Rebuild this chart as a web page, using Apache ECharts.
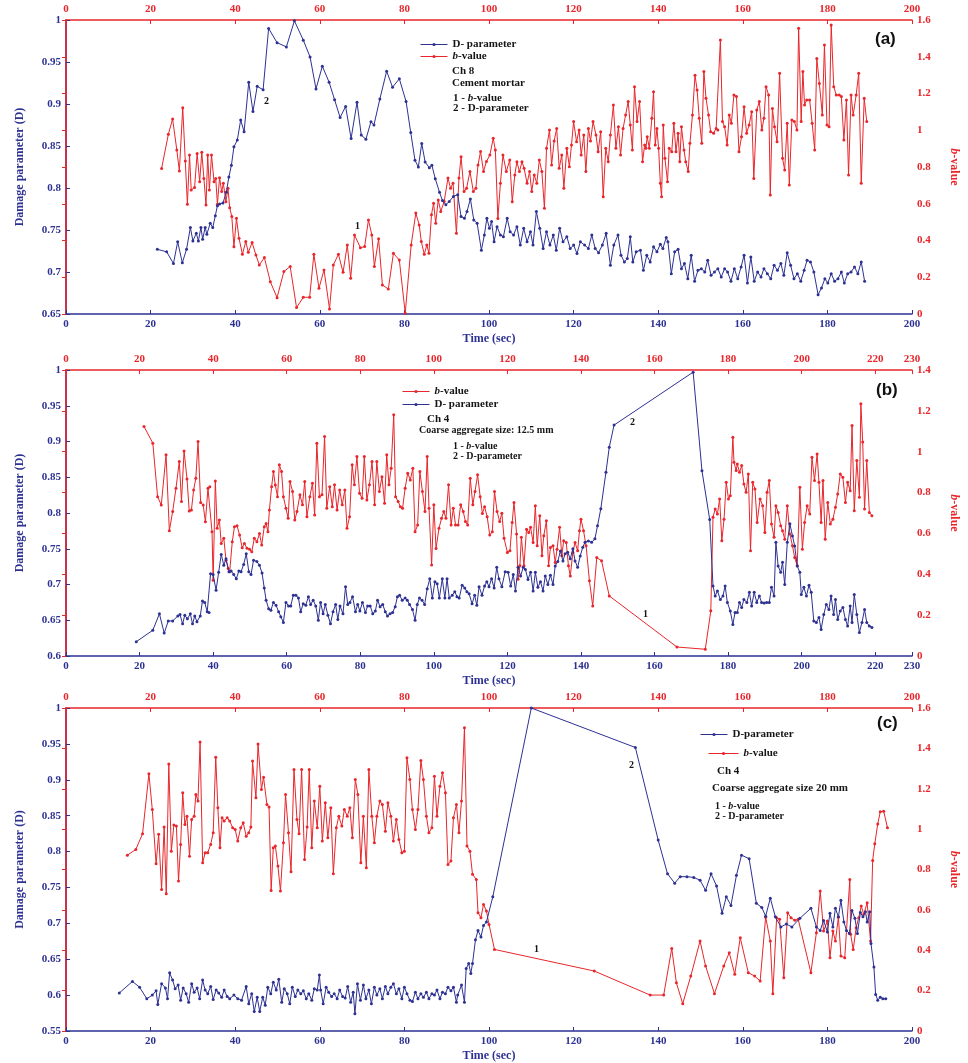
<!DOCTYPE html>
<html><head><meta charset="utf-8">
<script src="https://cdn.jsdelivr.net/npm/echarts@6/dist/echarts.min.js"></script>
<style>html,body{margin:0;padding:0;background:#fff}#c{width:968px;height:1063px}</style>
</head><body><div id="c"></div>
<script>
// ---------- Panel (a): Ch 8, cement mortar ----------
const aD = [[21.6,0.727],[23.8,0.724],[25.4,0.710],[26.4,0.736],[27.5,0.711],[28.5,0.727],[29.4,0.753],[30.0,0.737],[30.8,0.746],[31.3,0.737],[31.9,0.753],[32.3,0.739],[32.9,0.753],[33.3,0.745],[34.1,0.758],[34.7,0.753],[35.3,0.767],[35.8,0.779],[36.3,0.781],[37.1,0.782],[37.9,0.795],[38.5,0.813],[39.1,0.827],[39.7,0.849],[40.5,0.857],[41.3,0.881],[42.1,0.867],[43.2,0.926],[44.2,0.891],[45.2,0.921],[46.6,0.917],[47.9,0.990],[49.9,0.973],[52.1,0.968],[54.0,0.999],[56.1,0.976],[57.7,0.956],[59.1,0.918],[60.6,0.945],[62.2,0.926],[63.5,0.905],[64.8,0.884],[66.1,0.897],[67.4,0.859],[68.8,0.902],[69.8,0.863],[70.9,0.858],[72.1,0.879],[72.8,0.875],[74.2,0.906],[75.8,0.939],[77.2,0.920],[78.8,0.930],[80.4,0.903],[81.5,0.866],[82.5,0.833],[83.3,0.825],[84.1,0.853],[84.9,0.831],[85.9,0.824],[86.5,0.827],[87.3,0.811],[88.3,0.795],[89.0,0.785],[89.8,0.780],[90.6,0.784],[91.6,0.790],[92.6,0.792],[93.4,0.766],[94.2,0.764],[94.8,0.772],[95.6,0.787],[96.4,0.762],[97.2,0.758],[98.2,0.726],[98.9,0.744],[99.5,0.764],[100.1,0.752],[100.6,0.760],[101.2,0.736],[101.9,0.754],[102.7,0.744],[103.4,0.742],[104.3,0.764],[105.0,0.748],[105.8,0.744],[106.6,0.754],[107.4,0.732],[108.2,0.752],[109.0,0.736],[109.8,0.748],[110.4,0.732],[111.2,0.772],[112.0,0.752],[112.8,0.728],[113.6,0.748],[114.4,0.732],[115.2,0.744],[115.9,0.726],[116.7,0.752],[117.5,0.736],[118.4,0.742],[119.2,0.728],[120.0,0.732],[120.8,0.722],[121.6,0.736],[122.6,0.732],[123.5,0.728],[124.3,0.744],[125.1,0.728],[125.9,0.723],[126.8,0.732],[127.7,0.746],[128.7,0.708],[129.5,0.732],[130.5,0.744],[131.2,0.720],[132.0,0.712],[132.7,0.716],[133.4,0.742],[134.0,0.712],[134.8,0.724],[135.8,0.726],[136.5,0.702],[137.3,0.720],[138.1,0.712],[138.9,0.730],[139.7,0.724],[140.5,0.733],[141.1,0.728],[141.9,0.741],[142.3,0.736],[143.1,0.698],[143.9,0.724],[144.7,0.727],[145.5,0.704],[146.2,0.710],[147.0,0.692],[147.8,0.720],[148.6,0.689],[149.4,0.702],[150.2,0.704],[151.0,0.700],[151.7,0.714],[152.5,0.696],[153.3,0.700],[154.1,0.704],[154.9,0.694],[155.7,0.704],[156.4,0.700],[157.2,0.689],[158.0,0.704],[158.8,0.692],[159.6,0.706],[160.3,0.720],[161.1,0.687],[161.9,0.718],[162.7,0.689],[163.5,0.700],[164.3,0.694],[165.0,0.704],[165.8,0.698],[166.6,0.692],[167.4,0.708],[168.2,0.702],[169.0,0.710],[169.7,0.696],[170.5,0.723],[171.3,0.708],[172.1,0.692],[172.9,0.698],[173.7,0.689],[174.5,0.702],[175.2,0.714],[176.0,0.712],[176.8,0.700],[177.8,0.673],[178.6,0.681],[179.4,0.692],[180.1,0.687],[180.9,0.698],[181.7,0.689],[182.5,0.692],[183.3,0.700],[184.0,0.687],[184.8,0.698],[185.6,0.700],[186.4,0.706],[187.2,0.698],[188.0,0.712],[188.8,0.689]];
const aB = [[22.6,0.792],[24.2,0.978],[25.2,1.061],[26.2,0.893],[26.8,0.778],[27.6,1.123],[28.2,0.832],[28.7,0.597],[29.2,0.865],[29.6,0.675],[30.4,0.688],[31.0,0.874],[31.6,0.720],[32.1,0.880],[32.6,0.738],[33.1,0.593],[33.5,0.865],[33.9,0.675],[34.4,0.865],[35.0,0.720],[35.4,0.738],[35.8,0.597],[36.3,0.742],[36.8,0.666],[37.2,0.711],[37.8,0.611],[38.3,0.684],[38.7,0.578],[39.2,0.530],[39.7,0.366],[40.3,0.521],[40.9,0.412],[41.7,0.325],[42.5,0.394],[43.1,0.336],[44.0,0.389],[44.9,0.321],[45.7,0.267],[46.9,0.307],[48.3,0.176],[49.9,0.089],[51.5,0.231],[53.0,0.258],[54.5,0.035],[56.1,0.091],[57.6,0.091],[58.6,0.325],[59.8,0.140],[61.0,0.240],[62.3,0.027],[63.2,0.267],[64.4,0.325],[65.5,0.227],[66.5,0.376],[67.3,0.194],[68.2,0.430],[69.6,0.361],[70.6,0.367],[71.5,0.512],[72.3,0.430],[72.9,0.258],[73.9,0.409],[74.8,0.158],[76.2,0.136],[77.4,0.330],[78.8,0.294],[80.2,0.004],[81.6,0.376],[82.7,0.549],[83.5,0.485],[84.0,0.394],[84.7,0.325],[85.3,0.376],[85.8,0.330],[86.4,0.540],[86.9,0.603],[87.4,0.494],[88.0,0.621],[88.6,0.558],[89.4,0.612],[90.3,0.740],[90.9,0.685],[91.5,0.712],[92.3,0.439],[92.9,0.740],[93.4,0.856],[94.1,0.666],[94.7,0.684],[95.5,0.776],[96.3,0.666],[96.9,0.684],[97.4,0.811],[98.0,0.884],[98.7,0.776],[99.4,0.830],[100.2,0.865],[101.0,0.956],[101.5,0.893],[102.1,0.520],[102.7,0.711],[103.3,0.865],[104.1,0.775],[104.9,0.838],[105.5,0.611],[106.1,0.757],[106.6,0.829],[107.2,0.775],[107.8,0.829],[108.3,0.793],[109.0,0.711],[109.6,0.775],[110.1,0.666],[110.7,0.757],[111.3,0.711],[111.9,0.838],[112.5,0.775],[113.1,0.575],[113.6,0.902],[114.3,1.002],[114.8,0.811],[115.4,0.941],[116.0,1.010],[116.6,0.793],[117.2,0.865],[117.7,0.684],[118.4,0.902],[119.0,0.802],[119.5,0.920],[120.0,1.047],[120.7,0.938],[121.3,1.001],[121.8,0.865],[122.4,0.974],[122.9,0.775],[123.5,1.010],[124.0,0.941],[124.6,1.047],[125.3,0.974],[125.8,0.883],[126.4,0.992],[127.0,0.638],[127.6,0.902],[128.2,0.829],[128.7,0.974],[129.4,1.137],[130.0,0.902],[130.6,1.019],[131.1,0.865],[131.7,1.010],[132.3,1.083],[132.9,1.156],[133.4,1.029],[133.9,0.893],[134.4,1.237],[135.0,1.047],[135.6,1.156],[136.3,0.829],[136.8,0.920],[137.1,0.902],[137.4,0.965],[137.9,0.902],[138.5,1.065],[138.9,1.210],[139.3,0.920],[139.7,1.010],[140.1,0.902],[140.5,0.711],[140.8,0.638],[141.2,1.029],[141.6,0.847],[142.2,0.720],[142.6,0.902],[143.2,0.883],[143.7,1.038],[144.2,0.883],[144.7,0.984],[145.1,0.829],[145.5,1.019],[146.1,0.893],[146.5,0.829],[147.1,0.775],[147.5,0.929],[148.1,1.083],[148.7,1.300],[149.2,1.219],[149.7,1.065],[150.3,0.929],[150.8,1.320],[151.3,1.174],[151.9,1.083],[152.4,0.992],[153.1,0.984],[153.7,1.010],[154.1,1.001],[154.7,1.491],[155.2,1.047],[155.7,1.019],[156.3,0.920],[156.8,1.083],[157.3,1.038],[157.9,1.192],[158.5,1.183],[159.1,0.883],[159.7,0.965],[160.3,1.128],[160.9,0.984],[161.5,1.029],[162.1,1.101],[162.6,0.738],[163.3,1.110],[163.9,1.156],[164.5,1.001],[165.0,1.065],[165.5,1.237],[166.1,1.192],[166.5,0.647],[167.0,1.119],[167.5,1.019],[168.1,0.938],[168.7,1.310],[169.4,0.847],[169.9,0.784],[170.5,1.038],[171.0,0.702],[171.6,1.056],[172.2,1.047],[172.8,1.001],[173.2,1.555],[173.8,1.047],[174.2,1.320],[174.6,1.137],[175.1,1.165],[175.8,1.165],[176.4,1.038],[177.0,0.893],[177.5,1.391],[178.1,1.255],[178.8,1.083],[179.3,1.464],[179.9,1.029],[180.4,1.019],[180.9,1.573],[181.5,1.237],[182.1,1.192],[182.8,1.192],[183.3,1.183],[183.9,0.947],[184.5,1.165],[185.0,0.757],[185.6,1.192],[186.1,1.083],[186.8,1.192],[187.4,1.310],[188.0,0.711],[188.7,1.174],[189.3,1.047]];

// ---------- Panel (b): Ch 4, coarse aggregate 12.5 mm ----------
const bD = [[19.1,0.620],[23.6,0.636],[25.4,0.659],[26.7,0.632],[27.8,0.649],[29.0,0.649],[30.4,0.656],[31.0,0.658],[31.7,0.645],[32.3,0.657],[33.0,0.652],[33.8,0.659],[34.4,0.645],[35.0,0.656],[35.6,0.648],[36.5,0.656],[37.1,0.677],[37.7,0.675],[38.4,0.662],[38.9,0.661],[39.3,0.715],[40.0,0.714],[40.8,0.692],[41.5,0.717],[42.2,0.742],[42.9,0.727],[43.5,0.736],[44.3,0.718],[44.9,0.719],[45.6,0.714],[46.3,0.708],[47.0,0.719],[47.6,0.718],[48.3,0.728],[49.0,0.743],[49.7,0.718],[50.3,0.714],[51.0,0.734],[51.9,0.732],[52.6,0.727],[53.3,0.716],[53.9,0.695],[54.4,0.678],[55.1,0.666],[55.7,0.664],[56.4,0.675],[57.1,0.671],[57.8,0.662],[58.4,0.655],[59.1,0.647],[59.8,0.675],[60.5,0.670],[61.1,0.670],[61.8,0.685],[62.5,0.685],[63.2,0.681],[63.8,0.662],[64.5,0.673],[65.2,0.671],[65.9,0.683],[66.5,0.672],[67.2,0.678],[67.9,0.670],[68.6,0.650],[69.2,0.675],[69.9,0.659],[70.5,0.672],[71.2,0.657],[71.9,0.645],[72.6,0.662],[73.3,0.672],[73.9,0.651],[74.5,0.670],[75.3,0.659],[76.0,0.697],[76.6,0.672],[77.2,0.675],[77.9,0.683],[78.7,0.662],[79.3,0.672],[79.9,0.663],[80.6,0.675],[81.4,0.661],[82.0,0.670],[82.7,0.670],[83.4,0.659],[84.1,0.663],[84.7,0.678],[85.4,0.669],[86.1,0.672],[86.8,0.662],[87.4,0.656],[88.1,0.659],[88.8,0.661],[89.5,0.669],[90.1,0.683],[90.7,0.685],[91.4,0.678],[92.2,0.681],[92.8,0.678],[93.4,0.672],[94.2,0.665],[94.9,0.650],[95.5,0.672],[96.1,0.681],[96.8,0.678],[97.5,0.672],[98.2,0.694],[98.9,0.708],[99.6,0.681],[100.3,0.704],[100.9,0.701],[101.5,0.681],[102.3,0.708],[103.0,0.681],[103.6,0.708],[104.2,0.681],[105.0,0.685],[105.7,0.690],[106.3,0.683],[106.9,0.681],[107.7,0.699],[108.4,0.695],[109.0,0.690],[109.6,0.687],[110.4,0.673],[111.1,0.685],[111.7,0.671],[112.3,0.697],[113.1,0.685],[113.8,0.698],[114.4,0.704],[115.0,0.697],[115.7,0.708],[116.4,0.695],[117.1,0.724],[117.7,0.708],[118.5,0.697],[119.4,0.718],[120.2,0.717],[120.9,0.698],[121.6,0.714],[122.2,0.691],[122.9,0.724],[123.6,0.712],[124.3,0.724],[124.9,0.721],[125.6,0.707],[126.3,0.717],[127.0,0.691],[127.6,0.717],[128.3,0.696],[129.0,0.704],[129.7,0.691],[130.3,0.712],[131.0,0.700],[131.7,0.713],[132.4,0.700],[133.0,0.726],[133.7,0.732],[134.4,0.747],[135.1,0.733],[135.7,0.743],[136.4,0.745],[137.1,0.736],[137.8,0.750],[138.4,0.733],[139.1,0.724],[139.8,0.740],[140.5,0.752],[141.1,0.759],[142.0,0.761],[142.9,0.759],[143.8,0.764],[144.5,0.782],[145.4,0.806],[146.8,0.857],[147.7,0.892],[149.0,0.923],[170.5,0.997],[172.9,0.859],[175.0,0.791],[175.9,0.698],[176.5,0.684],[177.1,0.691],[177.9,0.679],[178.6,0.684],[179.2,0.698],[179.8,0.675],[180.6,0.663],[181.3,0.644],[181.9,0.661],[182.5,0.661],[183.1,0.675],[183.7,0.668],[184.3,0.679],[185.1,0.675],[185.8,0.689],[186.4,0.670],[187.1,0.689],[187.8,0.675],[188.5,0.684],[189.1,0.675],[189.8,0.674],[190.5,0.675],[191.2,0.675],[191.8,0.696],[192.5,0.684],[193.0,0.759],[193.6,0.726],[194.3,0.717],[194.8,0.731],[195.4,0.700],[196.1,0.759],[196.8,0.785],[197.5,0.768],[198.1,0.754],[198.8,0.726],[199.5,0.717],[199.9,0.686],[200.6,0.696],[201.3,0.684],[202.0,0.699],[202.6,0.689],[203.3,0.649],[204.0,0.647],[204.7,0.654],[205.3,0.637],[206.0,0.658],[206.7,0.672],[207.4,0.665],[208.0,0.684],[208.7,0.658],[209.2,0.679],[209.8,0.651],[210.5,0.663],[211.2,0.668],[211.9,0.651],[212.5,0.642],[213.2,0.670],[213.7,0.647],[214.3,0.686],[215.0,0.658],[215.7,0.633],[216.4,0.647],[217.1,0.665],[217.7,0.647],[218.4,0.642],[219.1,0.640]];
const bB = [[21.2,1.124],[23.6,1.042],[24.9,0.780],[25.9,0.739],[27.2,0.985],[28.1,0.613],[29.0,0.707],[29.9,0.821],[30.8,0.952],[31.4,0.756],[32.1,1.004],[32.9,0.867],[33.5,0.710],[34.1,0.715],[34.7,0.813],[35.3,0.870],[35.9,1.050],[36.6,0.752],[37.3,0.739],[37.9,0.657],[38.6,0.821],[39.1,0.829],[39.7,0.608],[40.0,0.371],[40.6,0.857],[41.1,0.625],[41.7,0.666],[42.2,0.551],[42.9,0.576],[43.5,0.469],[44.1,0.428],[44.5,0.412],[45.2,0.559],[45.8,0.633],[46.5,0.638],[47.2,0.592],[47.9,0.530],[48.5,0.551],[49.2,0.527],[49.9,0.522],[50.5,0.510],[51.2,0.576],[51.9,0.559],[52.6,0.600],[53.2,0.543],[53.9,0.633],[54.4,0.649],[54.9,0.608],[55.3,0.715],[55.9,0.829],[56.4,0.903],[56.9,0.837],[57.5,0.780],[58.0,0.936],[58.6,0.903],[59.1,0.780],[59.8,0.723],[60.4,0.674],[60.9,0.854],[61.6,0.805],[62.2,0.666],[62.8,0.707],[63.6,0.789],[64.3,0.740],[64.9,0.854],[65.5,0.682],[66.3,0.780],[67.0,0.846],[67.6,0.690],[68.2,1.042],[68.9,0.780],[69.6,0.789],[70.3,1.075],[70.9,0.723],[71.7,0.829],[72.4,0.731],[73.0,0.838],[73.7,0.715],[74.4,0.813],[75.1,0.740],[75.8,0.813],[76.4,0.625],[77.1,0.682],[77.8,0.936],[78.4,0.838],[79.1,0.976],[79.8,0.797],[80.5,0.772],[81.1,0.976],[81.8,0.764],[82.5,0.838],[83.2,0.952],[83.9,0.740],[84.5,0.952],[85.2,0.805],[85.9,0.878],[86.6,0.748],[87.2,0.985],[87.8,0.838],[88.4,0.919],[89.1,1.181],[89.6,0.780],[90.3,0.756],[90.9,0.731],[91.5,0.723],[92.2,0.821],[92.9,0.895],[93.6,0.862],[94.3,0.919],[94.9,0.608],[95.6,0.641],[96.2,0.903],[96.9,0.805],[97.6,0.707],[98.2,0.976],[98.7,0.723],[99.4,0.445],[100.0,0.740],[100.6,0.526],[101.4,0.625],[102.1,0.674],[102.7,0.707],[103.3,0.674],[104.0,0.838],[104.7,0.641],[105.3,0.723],[105.9,0.641],[106.6,0.641],[107.3,0.740],[108.0,0.707],[108.6,0.658],[109.2,0.641],[109.9,0.870],[110.6,0.740],[111.2,0.805],[111.9,0.887],[112.6,0.780],[113.2,0.698],[113.8,0.731],[114.5,0.682],[115.2,0.592],[115.9,0.608],[116.5,0.805],[117.2,0.707],[117.9,0.658],[118.5,0.699],[119.1,0.576],[120.0,0.507],[120.7,0.515],[121.3,0.654],[121.8,0.752],[122.5,0.597],[122.9,0.376],[123.4,0.442],[123.8,0.581],[124.5,0.442],[125.2,0.621],[125.8,0.605],[126.3,0.630],[127.0,0.556],[127.6,0.736],[128.1,0.540],[128.8,0.687],[129.4,0.491],[129.9,0.589],[130.6,0.662],[131.2,0.442],[131.7,0.531],[132.4,0.540],[133.0,0.458],[133.5,0.523],[134.2,0.630],[134.8,0.491],[135.3,0.564],[136.0,0.556],[136.6,0.442],[137.1,0.392],[137.8,0.507],[138.4,0.556],[139.1,0.515],[139.6,0.613],[140.0,0.670],[140.7,0.613],[141.4,0.540],[142.3,0.368],[143.2,0.245],[144.3,0.482],[145.6,0.466],[147.7,0.294],[166.1,0.044],[173.8,0.033],[175.3,0.221],[175.9,0.679],[176.5,0.720],[177.1,0.695],[177.7,0.769],[178.3,0.564],[178.9,0.670],[179.5,0.850],[180.1,0.769],[180.6,0.785],[181.3,1.071],[181.6,0.948],[182.2,0.908],[182.5,0.940],[183.1,0.899],[183.7,0.932],[184.3,0.842],[184.9,0.801],[185.5,0.891],[186.1,0.515],[186.7,0.850],[187.3,0.818],[187.9,0.654],[188.7,0.769],[189.4,0.736],[190.0,0.605],[190.6,0.801],[191.2,0.859],[191.8,0.646],[192.5,0.581],[193.0,0.736],[193.6,0.703],[194.3,0.638],[194.8,0.613],[195.4,0.572],[196.1,0.736],[196.8,0.597],[197.5,0.540],[198.1,0.482],[198.8,0.442],[199.5,0.826],[200.2,0.523],[200.8,0.654],[201.5,0.736],[202.2,0.695],[202.8,0.973],[203.5,0.859],[204.2,0.989],[204.7,0.850],[205.3,0.654],[205.8,0.859],[206.4,0.572],[207.1,0.752],[207.8,0.646],[208.5,0.670],[209.2,0.728],[209.8,0.793],[210.5,0.891],[211.2,0.875],[211.9,0.752],[212.5,0.850],[213.2,0.809],[213.7,1.128],[214.3,0.711],[215.0,0.957],[215.7,0.777],[216.1,1.235],[216.6,1.047],[217.1,0.720],[217.7,0.957],[218.4,0.703],[219.1,0.687]];

// ---------- Panel (c): Ch 4, coarse aggregate 20 mm ----------
const cD = [[12.6,0.603],[15.7,0.619],[17.4,0.611],[19.1,0.595],[20.4,0.600],[21.3,0.606],[21.7,0.587],[22.6,0.616],[23.5,0.610],[24.0,0.595],[24.5,0.631],[25.2,0.621],[25.8,0.609],[26.5,0.614],[27.1,0.593],[27.7,0.610],[28.4,0.602],[29.0,0.590],[29.7,0.616],[30.3,0.604],[31.0,0.610],[31.6,0.595],[32.3,0.621],[32.9,0.607],[33.5,0.602],[34.2,0.612],[34.8,0.594],[35.5,0.607],[36.1,0.603],[36.8,0.597],[37.4,0.607],[38.1,0.598],[38.7,0.595],[39.7,0.600],[40.6,0.595],[41.5,0.593],[42.6,0.612],[43.2,0.588],[43.9,0.602],[44.5,0.577],[45.2,0.597],[45.8,0.577],[46.5,0.597],[47.1,0.586],[47.7,0.611],[48.4,0.602],[49.0,0.618],[49.7,0.607],[50.3,0.622],[51.0,0.590],[51.6,0.609],[52.3,0.602],[52.9,0.588],[53.5,0.611],[54.2,0.598],[54.8,0.607],[55.5,0.602],[56.1,0.606],[56.8,0.595],[57.4,0.602],[58.1,0.593],[58.7,0.609],[59.4,0.607],[59.9,0.628],[60.2,0.607],[60.8,0.588],[61.5,0.611],[62.1,0.604],[62.8,0.598],[63.4,0.602],[64.1,0.595],[64.7,0.607],[65.4,0.598],[66.0,0.596],[66.6,0.612],[67.3,0.590],[67.9,0.604],[68.3,0.574],[68.9,0.616],[69.6,0.593],[70.3,0.614],[70.9,0.595],[71.6,0.607],[72.2,0.588],[72.9,0.611],[73.5,0.600],[74.2,0.609],[74.8,0.595],[75.5,0.612],[76.1,0.602],[76.8,0.611],[77.4,0.616],[78.1,0.602],[78.7,0.609],[79.4,0.595],[80.0,0.611],[80.6,0.602],[81.3,0.593],[81.9,0.591],[82.6,0.604],[83.2,0.595],[83.9,0.602],[84.5,0.597],[85.2,0.604],[85.8,0.595],[86.5,0.602],[87.1,0.600],[87.7,0.607],[88.4,0.595],[89.0,0.604],[89.7,0.602],[90.3,0.611],[91.0,0.606],[91.6,0.611],[92.3,0.590],[92.6,0.600],[93.5,0.614],[94.2,0.590],[94.6,0.637],[95.2,0.644],[95.7,0.630],[96.1,0.644],[96.8,0.677],[97.4,0.690],[98.1,0.681],[98.7,0.697],[99.4,0.702],[100.9,0.737],[110.0,1.000],[134.6,0.945],[140.0,0.816],[142.2,0.769],[143.9,0.756],[145.2,0.765],[146.8,0.765],[148.4,0.764],[149.9,0.760],[151.2,0.746],[152.5,0.769],[153.8,0.752],[155.1,0.714],[156.1,0.737],[157.2,0.725],[158.5,0.767],[159.7,0.795],[161.5,0.790],[163.2,0.728],[164.5,0.722],[165.4,0.710],[166.5,0.735],[167.7,0.709],[169.0,0.695],[170.3,0.699],[171.6,0.695],[173.5,0.707],[176.1,0.721],[177.4,0.695],[178.3,0.690],[179.1,0.704],[180.0,0.688],[180.6,0.714],[181.3,0.695],[181.9,0.721],[182.6,0.709],[183.2,0.732],[183.9,0.702],[184.5,0.690],[185.2,0.686],[185.8,0.718],[186.5,0.707],[187.1,0.686],[187.8,0.715],[188.4,0.709],[189.0,0.716],[189.4,0.702],[190.0,0.716],[190.3,0.672],[191.0,0.639],[191.4,0.601],[191.9,0.593],[192.5,0.597],[193.1,0.595],[193.8,0.595]];
const cB = [[14.5,0.871],[16.5,0.899],[18.1,0.977],[19.6,1.274],[20.4,1.097],[21.3,0.828],[21.9,0.974],[22.6,0.701],[23.2,1.010],[23.7,0.680],[24.3,1.323],[24.9,0.891],[25.5,1.020],[26.1,1.015],[26.6,0.743],[27.1,0.924],[27.6,1.180],[28.1,1.023],[28.6,1.064],[29.2,0.866],[29.7,1.048],[30.3,1.064],[30.7,1.172],[31.2,1.139],[31.7,1.432],[32.3,0.833],[32.9,0.883],[33.5,0.883],[34.2,0.924],[34.8,0.982],[35.4,1.356],[35.9,1.106],[36.4,0.908],[36.9,1.056],[37.4,1.040],[38.1,1.056],[38.7,1.040],[39.4,1.007],[40.0,0.998],[40.6,0.941],[41.3,1.007],[41.9,1.031],[42.6,0.965],[43.2,0.982],[43.7,1.010],[44.1,1.337],[44.9,1.155],[45.4,1.422],[46.2,1.196],[46.7,1.257],[47.5,1.122],[48.0,1.109],[48.5,0.696],[49.0,0.908],[49.5,0.916],[50.1,0.817],[50.7,0.693],[51.4,0.932],[51.9,1.172],[52.6,0.982],[53.2,0.789],[53.9,1.295],[54.6,1.048],[55.1,0.977],[55.7,1.295],[56.4,0.850],[57.0,1.010],[57.5,1.295],[58.1,0.908],[58.7,1.139],[59.4,1.007],[60.0,1.213],[60.6,0.941],[61.3,1.131],[61.9,0.957],[62.6,1.106],[63.2,0.779],[63.9,1.007],[64.5,1.064],[65.2,1.015],[65.8,1.097],[66.5,1.064],[67.1,1.106],[67.7,0.957],[68.4,1.246],[69.0,1.172],[69.7,0.833],[70.3,1.064],[71.0,0.809],[71.6,1.295],[72.3,1.064],[72.9,0.932],[73.5,1.064],[74.2,1.139],[74.8,1.122],[75.5,0.990],[76.1,1.131],[76.8,1.064],[77.4,0.941],[78.1,1.048],[78.7,0.949],[79.4,0.883],[80.0,0.891],[80.6,1.353],[81.3,1.246],[81.9,1.097],[82.6,0.998],[83.2,1.097],[83.9,1.340],[84.5,1.246],[85.2,1.064],[85.8,0.982],[86.5,1.007],[87.1,1.262],[87.7,1.064],[88.4,1.213],[89.0,1.279],[89.7,1.180],[90.3,0.825],[91.0,0.842],[91.6,1.056],[92.3,1.122],[92.9,0.982],[93.5,1.139],[94.2,1.502],[94.8,0.916],[95.5,0.891],[96.1,0.776],[97.0,0.751],[97.4,0.586],[98.1,0.561],[98.7,0.627],[99.4,0.594],[100.0,0.528],[101.3,0.404],[124.9,0.297],[138.1,0.178],[141.3,0.178],[143.2,0.409],[144.3,0.239],[145.8,0.135],[147.7,0.272],[149.9,0.446],[151.2,0.322],[153.3,0.185],[155.5,0.322],[156.8,0.388],[158.1,0.281],[159.4,0.462],[161.3,0.289],[162.8,0.272],[164.1,0.248],[165.4,0.564],[166.5,0.446],[167.1,0.185],[168.0,0.561],[168.7,0.553],[169.7,0.264],[170.6,0.586],[171.4,0.561],[172.3,0.548],[173.1,0.553],[176.1,0.289],[177.4,0.487],[178.3,0.693],[179.1,0.495],[180.0,0.545],[180.6,0.363],[181.3,0.495],[181.9,0.446],[182.6,0.564],[183.2,0.371],[184.1,0.363],[185.3,0.751],[185.5,0.479],[186.1,0.404],[186.8,0.512],[187.4,0.561],[188.0,0.619],[188.6,0.578],[189.4,0.635],[190.2,0.446],[190.7,0.845],[191.2,0.927],[191.9,1.026],[192.5,1.086],[193.3,1.089],[194.2,1.007]];

// axis ranges per panel
const timeMax = [200, 230, 200];
const dMin = [0.65, 0.6, 0.55];
const bMax = [1.6, 1.4, 1.6];
const panelTags = ['(a)', '(b)', '(c)'];

const BLUE = '#2d3192', RED = '#e8262b', INK = '#151515';
const SERIF = 'Liberation Serif';
const grids = [
  {left: 66, right: 52, top: 20, height: 294},
  {left: 66, right: 52, top: 370, height: 286},
  {left: 66, right: 52, top: 708, height: 323}
];
const xAxes = [], yAxes = [], series = [];
const seriesData = [[aD, aB], [bD, bB], [cD, cB]];
for (let p = 0; p < 3; p++) {
  const lbl = c => ({color: c, fontFamily: SERIF, fontWeight: 'bold', fontSize: 11, margin: 5});
  xAxes.push({gridIndex: p, type: 'value', position: 'bottom', min: 0, max: timeMax[p], interval: 20,
    axisLine: {lineStyle: {color: BLUE, width: 1.5}}, axisTick: {inside: true, length: 4, lineStyle: {color: BLUE}},
    axisLabel: lbl(BLUE), splitLine: {show: false},
    name: 'Time (sec)', nameLocation: 'middle', nameGap: 19,
    nameTextStyle: {color: BLUE, fontFamily: SERIF, fontWeight: 'bold', fontSize: 12}});
  xAxes.push({gridIndex: p, type: 'value', position: 'top', min: 0, max: timeMax[p], interval: 20,
    axisLine: {lineStyle: {color: RED, width: 1.5}}, axisTick: {inside: true, length: 4, lineStyle: {color: RED}},
    axisLabel: lbl(RED), splitLine: {show: false}});
  yAxes.push({gridIndex: p, type: 'value', position: 'left', min: dMin[p], max: 1, interval: 0.05,
    axisLine: {show: true, lineStyle: {color: BLUE, width: 1.5}}, axisTick: {show: true, inside: true, length: 4, lineStyle: {color: BLUE}},
    axisLabel: lbl(BLUE), splitLine: {show: false},
    name: 'Damage parameter (D)', nameLocation: 'middle', nameGap: 40,
    nameTextStyle: {color: BLUE, fontFamily: SERIF, fontWeight: 'bold', fontSize: 12}});
  yAxes.push({gridIndex: p, type: 'value', position: 'right', min: 0, max: bMax[p], interval: 0.2,
    axisLine: {show: true, lineStyle: {color: RED, width: 1.5}}, axisTick: {show: true, inside: true, length: 4, lineStyle: {color: RED}},
    axisLabel: lbl(RED), splitLine: {show: false},
    name: '{i|b}-value', nameLocation: 'middle', nameGap: 36, nameRotate: -90,
    nameTextStyle: {color: RED, fontFamily: SERIF, fontWeight: 'bold', fontSize: 12, rich: {i: {fontStyle: 'italic', fontWeight: 'bold', fontFamily: SERIF, color: RED, fontSize: 12}}}});
  const [dd, bb] = seriesData[p];
  series.push({name: 'D' + p, type: 'line', xAxisIndex: 2 * p, yAxisIndex: 2 * p, data: dd,
    symbol: 'circle', symbolSize: 3, color: BLUE, lineStyle: {width: 1, color: BLUE}, itemStyle: {color: BLUE}, z: 3});
  series.push({name: 'B' + p, type: 'line', xAxisIndex: 2 * p + 1, yAxisIndex: 2 * p + 1, data: bb,
    symbol: 'circle', symbolSize: 3, color: RED, lineStyle: {width: 1, color: RED}, itemStyle: {color: RED}, z: 2});
}
const legendNames = {D0: 'D- parameter', D1: 'D- parameter', D2: 'D-parameter', B0: '{i|b}-value', B1: '{i|b}-value', B2: '{i|b}-value'};
const leg = (name, left, top, w) => ({data: [name], left, top, padding: 0, itemWidth: w || 27, itemHeight: 4, itemGap: 4,
  formatter: n => legendNames[n], selectedMode: false, lineStyle: {width: 1},
  textStyle: {color: INK, fontFamily: SERIF, fontWeight: 'bold', fontSize: 11, padding: [0, 0, 0, 0], rich: {i: {fontStyle: 'italic', fontWeight: 'bold', fontFamily: SERIF, fontSize: 11, color: INK}}}});
const legends = [leg('D0', 420, 39), leg('B0', 420, 51), leg('B1', 402, 386), leg('D1', 402, 399), leg('D2', 700, 729), leg('B2', 708, 748, 30)];

const txt = (t, x, y, size) => ({type: 'text', left: x, top: y, silent: true,
  style: {text: t, fill: INK, font: 'bold ' + (size || 11) + 'px "' + SERIF + '"', rich: {i: {fontStyle: 'italic', fontWeight: 'bold', fontFamily: SERIF, fontSize: size || 11, fill: INK}}}});
const tag = (t, x, y) => ({type: 'text', left: x, top: y, silent: true, style: {text: t, fill: '#111', font: 'bold 17px "Liberation Sans"'}});
const graphics = [
  txt('Ch 8', 452, 66), txt('Cement mortar', 452, 78), txt('1 - {i|b}-value', 453, 93), txt('2 - D-parameter', 453, 103),
  txt('2', 264, 96, 10), txt('1', 355, 221, 10),
  txt('Ch 4', 427, 414), txt('Coarse aggregate size: 12.5 mm', 419, 425, 10), txt('1 - {i|b}-value', 453, 441, 10), txt('2 - D-parameter', 453, 451, 10),
  txt('2', 630, 417, 10), txt('1', 643, 609, 10),
  txt('Ch 4', 717, 766), txt('Coarse aggregate size 20 mm', 712, 783), txt('1 - {i|b}-value', 715, 801, 10), txt('2 - D-parameter', 715, 811, 10),
  txt('2', 629, 760, 10), txt('1', 534, 944, 10),
  tag(panelTags[0], 875, 31), tag(panelTags[1], 876, 382), tag(panelTags[2], 877, 715)
];

const chart = echarts.init(document.getElementById('c'), null, {renderer: 'canvas'});
chart.setOption({
  backgroundColor: '#fff', animation: false,
  grid: grids, xAxis: xAxes, yAxis: yAxes, series, legend: legends, graphic: graphics
});
</script></body></html>
